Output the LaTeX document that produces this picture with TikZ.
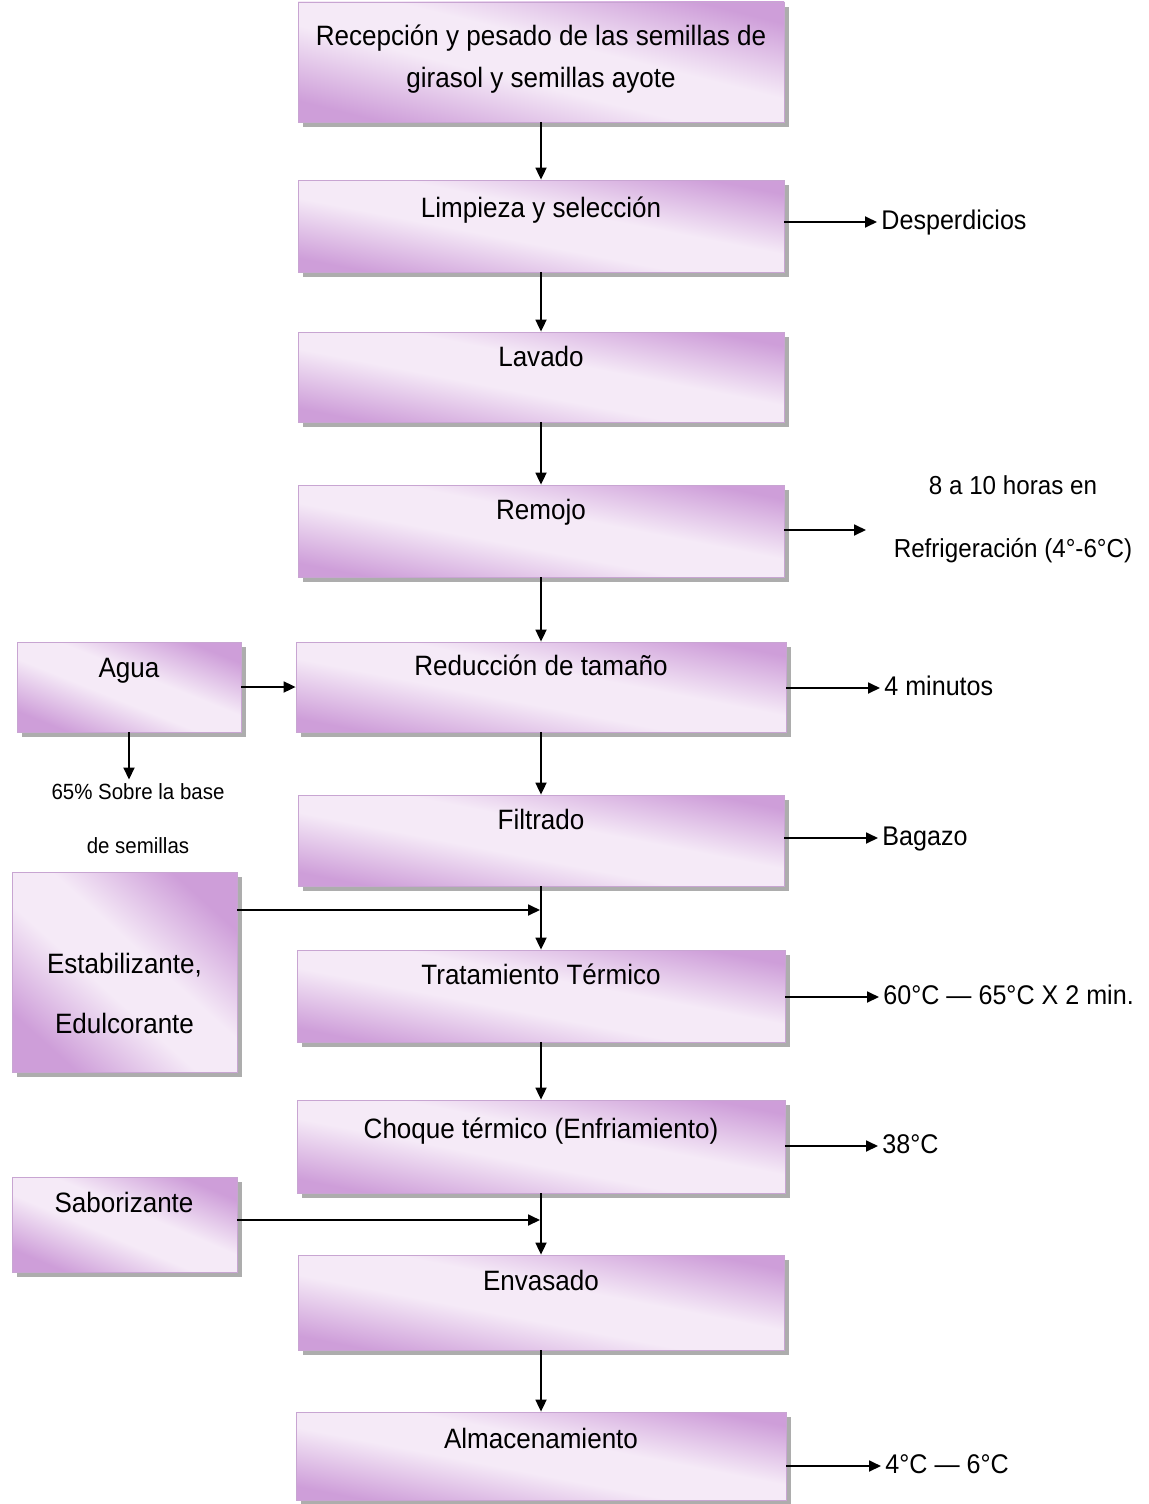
\documentclass[tikz,border=0pt]{standalone}
\usepackage{fontspec}
\setmainfont{Liberation Sans}[FakeStretch=0.93]
\usetikzlibrary{shadows,arrows.meta}
\definecolor{pdark}{RGB}{206,158,217}
\definecolor{plight}{RGB}{245,234,247}
\definecolor{pedge}{RGB}{200,165,210}
\pgfdeclarehorizontalshading{boxsh}{100bp}{color(0bp)=(pdark); color(25bp)=(pdark); color(44bp)=(plight); color(56bp)=(plight); color(75bp)=(pdark); color(100bp)=(pdark)}
\tikzset{
  procbox/.style={rectangle, inner sep=0pt, shading=boxsh, shading angle=79, draw=pedge, line width=0.4pt,
    drop shadow={shadow xshift=2.5pt, shadow yshift=-2.5pt, fill=black!32, draw=none, opacity=1}},
  lbl/.style={inner sep=2pt, font=\fontsize{14}{21}\selectfont, text height=0.72em, text depth=0pt},
  rlbl/.style={lbl, anchor=west, font=\fontsize{13.5}{21}\selectfont},
  mlbl/.style={inner sep=0pt, align=center, font=\fontsize{14}{21}\selectfont},
  flow/.style={line width=0.9pt, -{Triangle[length=6pt,width=5.5pt]}},
}
\begin{document}
\begin{tikzpicture}[x=0.5pt,y=-0.5pt]
\fill[white] (0,0) rectangle (1148,1504);
\useasboundingbox (0,0) rectangle (1148,1504);

% main column boxes
\node[procbox, shading angle=76, minimum width=243pt, minimum height=60pt] (b1) at (541,62) {};
\node[procbox, minimum width=243pt, minimum height=46pt]   (b2)  at (541,226) {};
\node[procbox, minimum width=243pt, minimum height=45pt]   (b3)  at (541,377) {};
\node[procbox, minimum width=243pt, minimum height=46pt]   (b4)  at (541,531) {};
\node[procbox, minimum width=245pt, minimum height=45pt]   (b5)  at (541,687) {};
\node[procbox, minimum width=243pt, minimum height=45.5pt] (b6)  at (541,840.5) {};
\node[procbox, minimum width=244pt, minimum height=46pt]   (b7)  at (541,996) {};
\node[procbox, minimum width=244pt, minimum height=46.5pt] (b8)  at (541,1146.5) {};
\node[procbox, minimum width=243pt, minimum height=47.5pt] (b9)  at (541,1302.5) {};
\node[procbox, minimum width=245pt, minimum height=44pt]   (b10) at (541,1456) {};

% side boxes
\node[procbox, shading angle=68, minimum width=112pt, minimum height=45pt]   (a1) at (129,687) {};
\node[procbox, shading angle=48, minimum width=112.5pt, minimum height=100pt] (e1) at (124.5,972) {};
\node[procbox, shading angle=67, minimum width=112.5pt, minimum height=47.5pt] (s1) at (124.5,1224.5) {};

% texts in boxes
\node[mlbl] (t1) at (541,59) {Recepción y pesado de las semillas de\\girasol y semillas ayote};
\node[lbl] (t2)  at (541,210)  {Limpieza y selección};
\node[lbl] (t3)  at (541,359)  {Lavado};
\node[lbl] (t4)  at (541,512)  {Remojo};
\node[lbl] (t5)  at (541,668)  {Reducción de tamaño};
\node[lbl] (t6)  at (541,822)  {Filtrado};
\node[lbl] (t7)  at (541,977)  {Tratamiento Térmico};
\node[lbl] (t8)  at (541,1131) {Choque térmico (Enfriamiento)};
\node[lbl] (t9)  at (541,1283) {Envasado};
\node[lbl] (t10) at (541,1441) {Almacenamiento};
\node[lbl] (ta)  at (129,670)  {Agua};
\node[mlbl, font=\fontsize{14}{30}\selectfont] (te) at (124.5,993) {Estabilizante,\\Edulcorante};
\node[lbl] (ts)  at (124,1205) {Saborizante};

% right labels
\node[rlbl] (r2)  at (877,222)  {Desperdicios};
\node[mlbl, font=\fontsize{13}{31.5}\selectfont] (r4) at (1013,519) {8 a 10 horas en\\Refrigeración (4°-6°C)};
\node[rlbl] (r5)  at (880,688)  {4 minutos};
\node[rlbl] (r6)  at (878,838)  {Bagazo};
\node[rlbl] (r7)  at (879,997)  {60°C — 65°C X 2 min.};
\node[rlbl] (r8)  at (878,1146) {38°C};
\node[rlbl] (r10) at (881,1466) {4°C — 6°C};

% note under Agua
\node[mlbl, font=\fontsize{11}{27}\selectfont, inner sep=2pt] (la) at (138,819) {65\% Sobre la base\\de semillas};

% coordinates
\coordinate (k4) at (866,530);
\coordinate (j1) at (540,910);
\coordinate (j2) at (540,1220);

% main flow
\draw[flow] (b1) -- (b2);
\draw[flow] (b2) -- (b3);
\draw[flow] (b3) -- (b4);
\draw[flow] (b4) -- (b5);
\draw[flow] (b5) -- (b6);
\draw[flow] (b6) -- (b7);
\draw[flow] (b7) -- (b8);
\draw[flow] (b8) -- (b9);
\draw[flow] (b9) -- (b10);

% outputs
\draw[flow] (b2.east |- r2.west) -- (r2.west);
\draw[flow] (b4.east |- k4) -- (k4);
\draw[flow] (b5.east |- r5.west) -- (r5.west);
\draw[flow] (b6.east |- r6.west) -- (r6.west);
\draw[flow] (b7.east |- r7.west) -- (r7.west);
\draw[flow] (b8.east |- r8.west) -- (r8.west);
\draw[flow] (b10.east |- r10.west) -- (r10.west);

% inputs
\draw[flow] (a1) -- (b5);
\draw[flow] (a1.south) -- (a1.south |- la.north);
\draw[flow] (e1.east |- j1) -- (j1);
\draw[flow] (s1.east |- j2) -- (j2);
\end{tikzpicture}
\end{document}
